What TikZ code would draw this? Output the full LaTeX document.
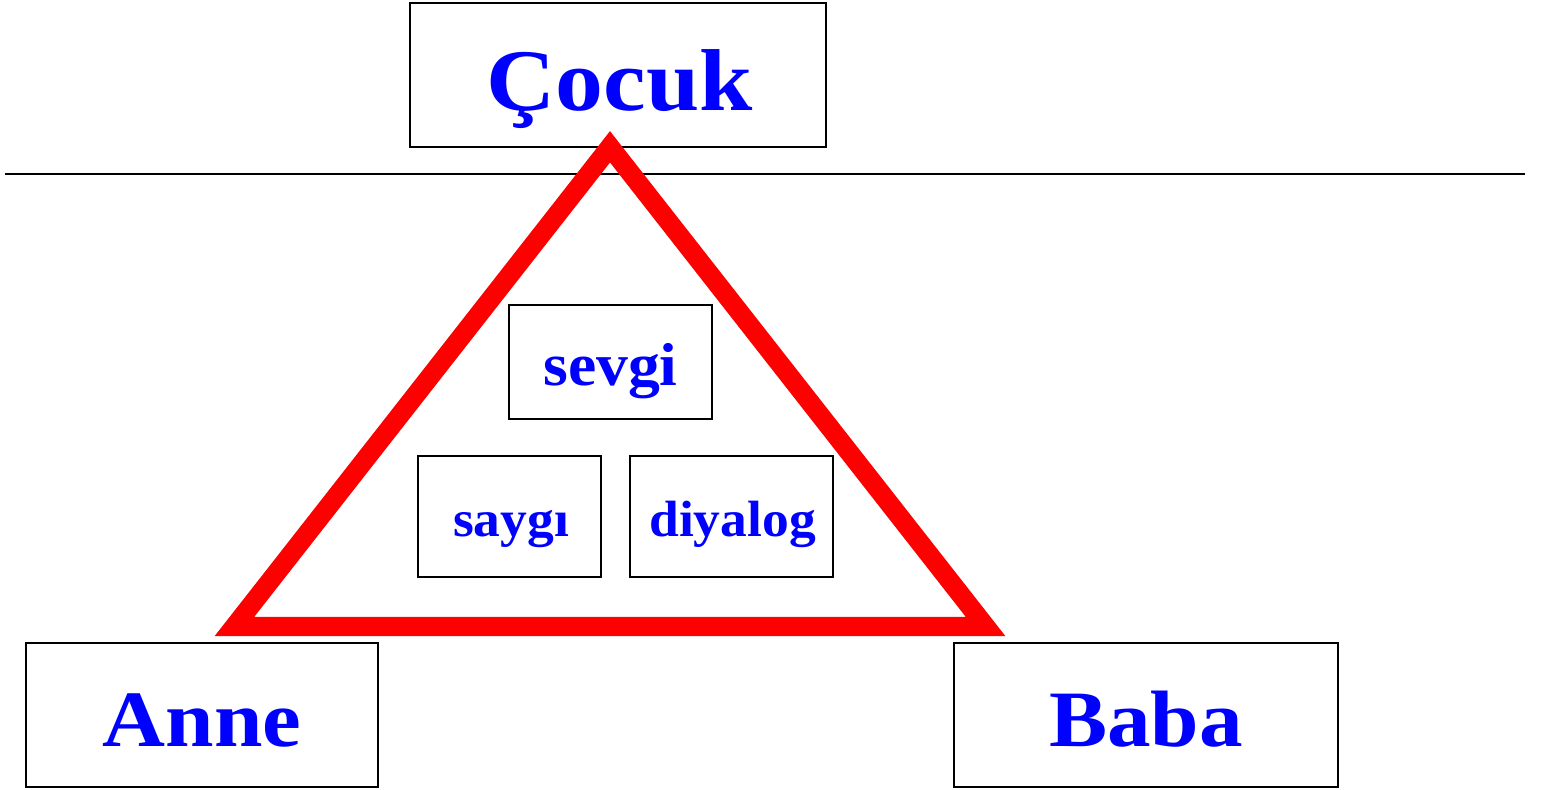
\documentclass[tikz,border=0pt]{standalone}
\usepackage{fontspec}
\setmainfont{Liberation Serif}
\newcommand{\wide}[1]{\scalebox{1.09}[1]{#1}}
\newcommand{\widesm}[1]{\scalebox{1.05}[1]{#1}}
\begin{document}
\begin{tikzpicture}[x=0.02cm,y=-0.02cm,
  box/.style={draw=black,line width=1.6pt,fill=white,inner sep=0pt},
  lbl/.style={text=blue,font=\bfseries,anchor=base,inner sep=0pt},
  tri/.style={draw=red,line width=11pt,line join=miter}]
\useasboundingbox (0,0) rectangle (1544,789);
% horizontal rule
\coordinate (hl) at (5,174);
\coordinate (hr) at (1525,174);
\draw[line width=1.2pt] (hl) -- (hr);
% boxes
\node[box,minimum width=416*0.02cm,minimum height=144*0.02cm] (cocukbox) at (618,75) {};
\node[box,minimum width=352*0.02cm,minimum height=144*0.02cm] (annebox) at (202,715) {};
\node[box,minimum width=384*0.02cm,minimum height=144*0.02cm] (bababox) at (1146,715) {};
\node[box,minimum width=203*0.02cm,minimum height=114*0.02cm] (sevgibox) at (610.5,362) {};
\node[box,minimum width=183*0.02cm,minimum height=121*0.02cm] (saygibox) at (509.5,516.5) {};
\node[box,minimum width=203*0.02cm,minimum height=121*0.02cm] (diyalogbox) at (731.5,516.5) {};
% labels
\node[lbl,font=\bfseries\fontsize{50}{56}\selectfont] (cocuk) at (619.5,110) {\wide{Çocuk}};
\node[lbl,font=\bfseries\fontsize{45.5}{51}\selectfont] (anne) at (202,746) {\wide{Anne}};
\node[lbl,font=\bfseries\fontsize{45.5}{51}\selectfont] (baba) at (1146,746) {\wide{Baba}};
\node[lbl,font=\bfseries\fontsize{34.5}{40}\selectfont] (sevgi) at (610.5,385.7) {\widesm{sevgi}};
\node[lbl,font=\bfseries\fontsize{29}{34}\selectfont] (saygi) at (511,536.7) {\widesm{saygı}};
\node[lbl,font=\bfseries\fontsize{29}{34}\selectfont] (diyalog) at (732.5,536.7) {\widesm{diyalog}};
% triangle
\coordinate (apex) at (610,146.8);
\coordinate (bl) at (234.4,626.5);
\coordinate (br) at (985.6,626.5);
\draw[tri] (apex) -- (bl) -- (br) -- cycle;
\end{tikzpicture}
\end{document}
